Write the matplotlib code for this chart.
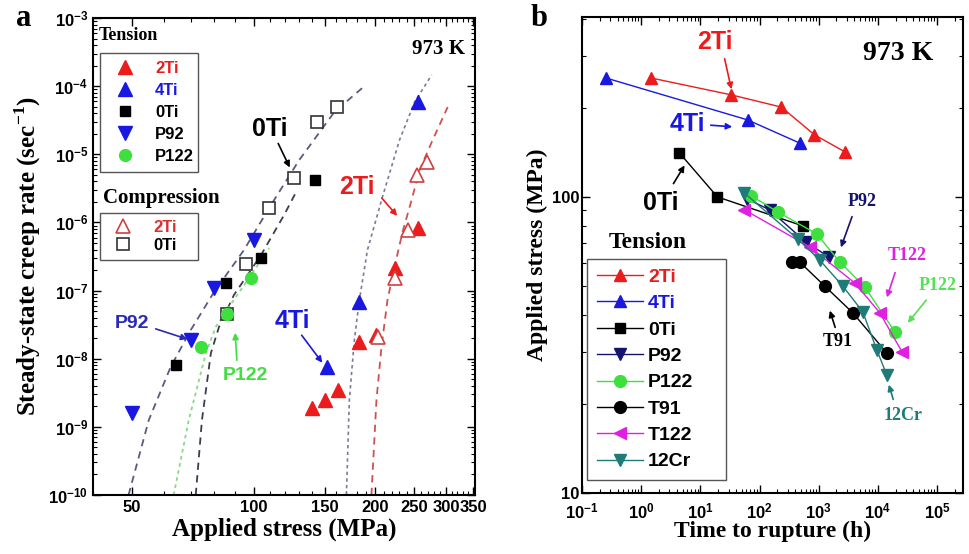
import matplotlib
matplotlib.use("Agg")
import matplotlib.pyplot as plt
from matplotlib.ticker import FixedLocator, FixedFormatter, NullFormatter, LogLocator

# ---- panel a : steady-state creep rate vs applied stress ----
# tension
ti2_s = [139.8, 150.6, 162.3, 183.0, 201.7, 223.6, 255.1]
ti2_e = [1.89e-9, 2.48e-9, 3.47e-9, 1.76e-8, 2.23e-8, 2.14e-7, 8.28e-7]
ti4_s = [152.3, 183.0, 255.1]
ti4_e = [7.55e-9, 6.8e-8, 5.85e-5]
ti0_s = [64.2, 85.4, 104.4, 142.2]
ti0_e = [8.09e-9, 1.29e-7, 3.0e-7, 4.2e-6]
p92_s = [49.9, 69.9, 79.8, 100.3]
p92_e = [1.6e-9, 1.88e-8, 1.09e-7, 5.52e-7]
p122_s = [74.0, 85.9, 98.6]
p122_e = [1.49e-8, 4.53e-8, 1.53e-7]
# compression
c2ti_s = [204.0, 223.6, 240.9, 253.7, 268.6]
c2ti_e = [2.08e-8, 1.53e-7, 7.74e-7, 4.97e-6, 7.7e-6]
c0ti_s = [85.9, 95.8, 109.3, 126.1, 143.9, 161.4]
c0ti_e = [4.53e-8, 2.45e-7, 1.63e-6, 4.49e-6, 2.98e-5, 4.94e-5]
# fitted curves
fit_a_s = [49.0, 55.0, 62.3, 69.9, 79.8, 94.7, 109.3, 129.8, 158.6, 188.3]
fit_a_e = [1e-10, 1.26e-9, 7.55e-9, 2.64e-8, 9.5e-8, 3.94e-7, 1.63e-6, 8.24e-6, 4.17e-5, 1.0e-4]
fit_b_s = [71.9, 74.5, 78.4, 82.1, 89.4, 104.4, 119.1, 128.3]
fit_b_e = [1e-10, 1.26e-9, 1.21e-8, 2.92e-8, 8.6e-8, 3.33e-7, 1.29e-6, 2.99e-6]
fit_g_s = [63.4, 69.1, 76.2, 80.6, 85.9, 98.6, 109.3]
fit_g_e = [1e-10, 1.26e-9, 1.21e-8, 2.92e-8, 5.19e-8, 1.69e-7, 4.21e-7]
fit_4_s = [169.9, 172.8, 177.8, 183.0, 191.6, 208.7, 230.1, 250.8, 276.4]
fit_4_e = [1e-10, 2.48e-9, 1.88e-8, 7.27e-8, 3.94e-7, 2.36e-6, 1.62e-5, 5.85e-5, 1.46e-4]
fit_2_s = [196.0, 201.7, 207.6, 214.8, 223.6, 234.1, 246.5, 258.0, 278.0, 302.9]
fit_2_e = [1e-10, 2.48e-9, 1.49e-8, 7.27e-8, 2.22e-7, 7.24e-7, 2.13e-6, 5.88e-6, 1.62e-5, 4.94e-5]
xticks_a = [50, 100, 150, 200, 250, 300, 350]

# ---- panel b : stress vs time to rupture ----
b2ti_t = [1.48, 33.5, 234, 850, 2760]
b2ti_s = [252, 221, 201, 162, 142]
b4ti_t = [0.255, 62.7, 476]
b4ti_s = [252, 182, 152]
b0ti_t = [4.4, 19.4, 537]
b0ti_s = [141, 100, 79.8]
bp92_t = [62.6, 147.6, 602, 1479]
bp92_s = [98.4, 90.4, 70.5, 62.7]
bp122_t = [73.2, 202, 925, 2270, 6025, 19410]
bp122_s = [100.8, 89, 75, 60.3, 49.6, 35]
bt91_t = [348, 476, 1265, 3770, 14220]
bt91_s = [60.3, 60.3, 50, 40.6, 29.7]
bt122_t = [55.7, 704, 4075, 10810, 25530]
bt122_s = [90.4, 67.8, 51.2, 40.6, 30]
b12cr_t = [55.7, 441, 1040, 2553, 5570, 9620, 14220]
b12cr_s = [103, 72.1, 61.2, 50, 40.9, 30.4, 25]

RED = '#ec1c1c'
BLUE = '#1818e0'
GREEN = '#3ee03e'
NAVY = '#14146e'
MAG = '#e020e0'
TEAL = '#1e7b78'
SERIF = 'Liberation Serif'

plt.rcParams['font.family'] = ['Liberation Sans', 'DejaVu Sans']
plt.rcParams['font.weight'] = 'bold'

W, H = 969, 554
fig = plt.figure(figsize=(W / 100, H / 100), dpi=100)

def fpx(x, y):
    return (x / W, 1 - y / H)

def label(x, y, s, color='k', size=14, family=None, **kw):
    fig.text(x / W, 1 - y / H, s, color=color, fontsize=size, ha='center', va='center',
             fontweight='bold', family=family or ['Liberation Sans', 'DejaVu Sans'], **kw)

def arrow(x0, y0, x1, y1, color='k'):
    fig.add_artist(matplotlib.patches.FancyArrowPatch(
        fpx(x0, y0), fpx(x1, y1), transform=fig.transFigure,
        arrowstyle='-|>', mutation_scale=9, color=color, lw=1.2))

def style_axes(ax):
    ax.tick_params(which='both', direction='in', top=True, right=True, labelsize=12)
    ax.tick_params(which='major', length=6, width=1)
    ax.tick_params(which='minor', length=3, width=0.8)
    for sp in ax.spines.values():
        sp.set_linewidth(1.5)

# ================= panel a =================
ax1 = fig.add_axes([93 / W, 1 - 495 / H, 382 / W, 477 / H])
ax1.set_xscale('log')
ax1.set_yscale('log')

ax1.plot(fit_a_s, fit_a_e, ls=(0, (4, 3)), color='#5a5a80', lw=1.3)
ax1.plot(fit_b_s, fit_b_e, ls=(0, (4, 3)), color='#3c3c4c', lw=1.3)
ax1.plot(fit_g_s, fit_g_e, ls=(0, (2, 2)), color='#8ad88a', lw=1.3)
ax1.plot(fit_4_s, fit_4_e, ls=(0, (2, 2)), color='#7a7a9a', lw=1.2)
ax1.plot(fit_2_s, fit_2_e, ls=(0, (4, 3)), color='#d05050', lw=1.3)

h2 = ax1.plot(ti2_s, ti2_e, '^', color=RED, ms=10, ls='none')[0]
h4 = ax1.plot(ti4_s, ti4_e, '^', color=BLUE, ms=10, ls='none')[0]
hc2 = ax1.plot(c2ti_s, c2ti_e, '^', mfc='white', mec='#d04040', mew=1.2, ms=10, ls='none')[0]
hc0 = ax1.plot(c0ti_s, c0ti_e, 's', mfc='white', mec='#333333', mew=1.2, ms=8, ls='none')[0]
h0 = ax1.plot(ti0_s, ti0_e, 's', color='k', ms=7.5, ls='none')[0]
h92 = ax1.plot(p92_s, p92_e, 'v', color=BLUE, ms=10, ls='none')[0]
h122 = ax1.plot(p122_s, p122_e, 'o', color=GREEN, ms=8.5, ls='none')[0]

ax1.set_xlim(40, 354)
ax1.set_ylim(1e-10, 1e-3)
ax1.xaxis.set_major_locator(FixedLocator(xticks_a))
ax1.xaxis.set_major_formatter(FixedFormatter([str(v) for v in xticks_a]))
ax1.xaxis.set_minor_locator(FixedLocator([v for v in range(40, 355, 10) if v not in xticks_a]))
ax1.xaxis.set_minor_formatter(NullFormatter())
ax1.yaxis.set_major_locator(LogLocator(base=10, numticks=20))
ax1.yaxis.set_minor_locator(LogLocator(base=10, subs=range(2, 10), numticks=20))
ax1.yaxis.set_minor_formatter(NullFormatter())
style_axes(ax1)
ax1.set_xlabel('Applied stress (MPa)', family=SERIF, fontsize=18, fontweight='bold', labelpad=2)
ax1.set_ylabel('Steady-state creep rate (sec$^{\\mathregular{-1}}$)', family=SERIF, fontsize=18,
               fontweight='bold', labelpad=4)

leg1 = ax1.legend([h2, h4, h0, h92, h122], ['2Ti', '4Ti', '0Ti', 'P92', 'P122'],
                  loc='upper left', bbox_to_anchor=(0.018, 0.665, 0.257, 0.262), mode='expand',
                  fancybox=False, edgecolor='#555555', framealpha=1, numpoints=1,
                  prop={'size': 12, 'weight': 'bold'}, labelcolor=[RED, BLUE, 'k', 'k', 'k'],
                  handlelength=2.0, handletextpad=0.8, labelspacing=0.42, borderpad=0.5,
                  borderaxespad=0)
leg1.get_frame().set_linewidth(1.0)
ax1.add_artist(leg1)
leg2 = ax1.legend([hc2, hc0], ['2Ti', '0Ti'],
                  loc='upper left', bbox_to_anchor=(0.018, 0.49, 0.257, 0.101), mode='expand',
                  fancybox=False, edgecolor='#555555', framealpha=1, numpoints=1,
                  prop={'size': 12, 'weight': 'bold'}, labelcolor=['#d83030', 'k'],
                  handlelength=2.0, handletextpad=0.8, labelspacing=0.2, borderpad=0.4,
                  borderaxespad=0)
leg2.get_frame().set_linewidth(1.0)

label(128, 35, 'Tension', size=13, family=SERIF)
label(161, 198, 'Compression', size=15, family=SERIF)
label(438, 49, '973 K', size=15, family=SERIF)
label(24, 18, 'a', size=22, family=SERIF)

label(270, 129, '0Ti', size=18)
arrow(277, 141, 291, 170)
label(357, 187, '2Ti', color=RED, size=18)
arrow(380, 196, 399, 218, RED)
label(132, 323, 'P92', color='#2a2ab8', size=14)
arrow(153, 328, 190, 340, '#2a2ab8')
label(245, 375, 'P122', color='#44dd44', size=14)
arrow(237, 363, 235, 330, '#44dd44')
label(292, 321, '4Ti', color=BLUE, size=18)
arrow(300, 333, 324, 365, BLUE)

# ================= panel b =================
ax2 = fig.add_axes([582 / W, 1 - 493 / H, 381 / W, 476 / H])
ax2.set_xscale('log')
ax2.set_yscale('log')
series_b = [
    (b2ti_t, b2ti_s, '^', RED, '2Ti', 9),
    (b4ti_t, b4ti_s, '^', BLUE, '4Ti', 9),
    (b0ti_t, b0ti_s, 's', 'k', '0Ti', 7.5),
    (bp92_t, bp92_s, 'v', NAVY, 'P92', 9),
    (bp122_t, bp122_s, 'o', GREEN, 'P122', 8.5),
    (bt91_t, bt91_s, 'o', 'k', 'T91', 8.5),
    (bt122_t, bt122_s, '<', MAG, 'T122', 9),
    (b12cr_t, b12cr_s, 'v', TEAL, '12Cr', 9),
]
handles_b = []
for t, s, m, c, name, ms in series_b:
    h = ax2.plot(t, s, marker=m, color=c, ms=ms, lw=1.0, label=name)[0]
    handles_b.append(h)

ax2.set_xlim(0.1, 2.75e5)
ax2.set_ylim(10, 405)
ax2.xaxis.set_major_locator(LogLocator(base=10, numticks=20))
ax2.xaxis.set_minor_locator(LogLocator(base=10, subs=range(2, 10), numticks=20))
ax2.xaxis.set_minor_formatter(NullFormatter())
ax2.yaxis.set_major_locator(FixedLocator([10, 100]))
ax2.yaxis.set_major_formatter(FixedFormatter(['10', '100']))
ax2.yaxis.set_minor_locator(LogLocator(base=10, subs=range(2, 10), numticks=20))
ax2.yaxis.set_minor_formatter(NullFormatter())
style_axes(ax2)
ax2.tick_params(axis='y', pad=2)
ax2.tick_params(axis='x', pad=6)
ax2.set_xlabel('Time to rupture (h)', family=SERIF, fontsize=17, fontweight='bold', labelpad=0)
ax2.set_ylabel('Applied stress (MPa)', family=SERIF, fontsize=17, fontweight='bold', labelpad=3)

leg3 = ax2.legend(handles_b, [h.get_label() for h in handles_b],
                  loc='lower left', bbox_to_anchor=(0.013, 0.027, 0.365, 0.47), mode='expand',
                  fancybox=False, edgecolor='#555555', framealpha=1, numpoints=1,
                  prop={'size': 14, 'weight': 'bold'},
                  labelcolor=[RED, BLUE, 'k', 'k', 'k', 'k', 'k', 'k'],
                  handlelength=2.4, handletextpad=0.25, labelspacing=0.45, borderpad=0.5,
                  borderaxespad=0)
leg3.get_frame().set_linewidth(1.0)

label(648, 243, 'Tension', size=17, family=SERIF)
label(898, 53, '973 K', size=20, family=SERIF)
label(539, 18, 'b', size=22, family=SERIF)

label(715, 42, '2Ti', color=RED, size=18)
arrow(724, 56, 732, 92, RED)
label(687, 124, '4Ti', color=BLUE, size=18)
arrow(708, 125, 735, 127, BLUE)
label(661, 203, '0Ti', size=18)
arrow(672, 186, 686, 163)
label(862, 201, 'P92', color=NAVY, size=13, family=SERIF)
arrow(853, 214, 840, 250, NAVY)
label(907, 256, 'T122', color=MAG, size=13, family=SERIF)
arrow(896, 270, 886, 300, MAG)
label(938, 285, 'P122', color='#55e055', size=13, family=SERIF)
arrow(928, 298, 906, 325, '#55e055')
label(838, 341, 'T91', size=13, family=SERIF)
arrow(836, 330, 829, 308)
label(903, 416, '12Cr', color=TEAL, size=13, family=SERIF)
arrow(894, 402, 888, 382, TEAL)

fig.savefig('out.png', dpi=100)
